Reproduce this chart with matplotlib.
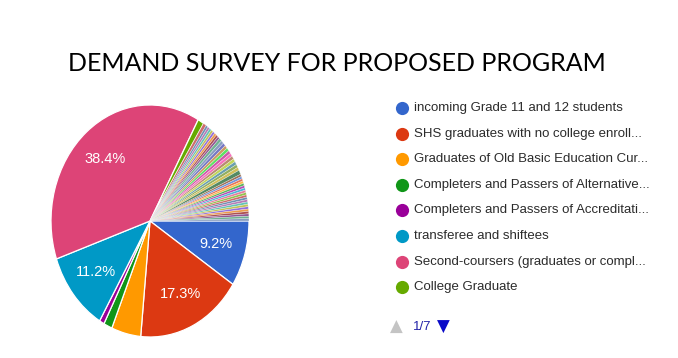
import matplotlib
matplotlib.use('Agg')
import matplotlib.pyplot as plt

# main categories (legend page 1/7)
categories = ['incoming Grade 11 and 12 students',
              'SHS graduates with no college enroll...',
              'Graduates of Old Basic Education Cur...',
              'Completers and Passers of Alternative...',
              'Completers and Passers of Accreditati...',
              'transferee and shiftees',
              'Second-coursers (graduates or compl...',
              'College Graduate']
main_values = [9.2, 17.3, 4.8, 1.4, 0.8, 11.2, 38.4, 1.0]

# the many tiny answers on the other legend pages
small_values = [0.5,
                0.35, 0.35, 0.35, 0.35, 0.35, 0.35, 0.35, 0.35,
                0.45,
                0.45, 0.45, 0.45, 0.45, 0.45, 0.45, 0.45, 0.45, 0.45, 0.45, 0.45,
                0.6,
                0.33, 0.33, 0.33, 0.33, 0.33, 0.33, 0.33, 0.33, 0.33, 0.33,
                0.33, 0.33, 0.33, 0.33, 0.33, 0.33, 0.33, 0.33, 0.33, 0.33]

palette = ['#3366cc', '#dc3912', '#ff9900', '#109618', '#990099', '#0099c6',
           '#dd4477', '#66aa00', '#b82e2e', '#316395', '#994499', '#22aa99',
           '#aaaa11', '#6633cc', '#e67300', '#8b0707', '#651067', '#329262',
           '#5574a6', '#3b3eac', '#b77322', '#16d620', '#b91383', '#f4359e',
           '#9c5935', '#a9c413', '#2a778d', '#668d1c', '#bea413', '#0c5922',
           '#743411']

values = main_values + small_values
colors = [palette[i % len(palette)] for i in range(len(values))]

fig = plt.figure(figsize=(6.78, 3.58), dpi=100)
fig.patch.set_facecolor('white')

fig.text(0.497, 0.822, 'DEMAND SURVEY FOR PROPOSED PROGRAM', ha='center', va='center',
         fontsize=18, family='Lato', color='black')

ax = fig.add_axes([51 / 678, 21 / 358, 198 / 678, 232 / 358])


def fmt(pct):
    return f'{pct:.1f}%' if pct > 5 else ''


wedges, texts, autotexts = ax.pie(values, colors=colors, startangle=0, counterclock=False,
                                  autopct=fmt, pctdistance=0.7, radius=1,
                                  wedgeprops=dict(edgecolor='white', linewidth=0.9))
# tiny slices: thin white border, washed-out colour like the antialiased original
for w in wedges[len(main_values):]:
    w.set_linewidth(0.3)
    w.set_alpha(0.7)
for t in autotexts:
    t.set_color('white')
    t.set_fontsize(10.5)
    t.set_family('Liberation Sans')
ax.set_aspect('auto')
ax.set_xlim(-1, 1)
ax.set_ylim(-1, 1)
ax.axis('off')

# legend, drawn by hand like the Google Forms one
lg = fig.add_axes([0, 0, 1, 1])
lg.set_xlim(0, 678)
lg.set_ylim(358, 0)
lg.axis('off')
for i, name in enumerate(categories):
    y = 108 + i * 25.6
    lg.plot(402, y, 'o', ms=9.5, color=colors[i], mec='none')
    lg.text(414, y, name, va='center', ha='left', fontsize=9.5,
            family='Liberation Sans', color='#2b2b2b')

lg.text(396, 327, '\u25b2', ha='center', va='center', fontsize=12, color='#c4c4c4', family='DejaVu Sans')
lg.text(413, 327, '1/7', ha='left', va='center', fontsize=9.5, color='#2323a8', family='Liberation Sans')
lg.text(443, 327, '\u25bc', ha='center', va='center', fontsize=12, color='#0a0ac8', family='DejaVu Sans')

fig.savefig('out.png', dpi=100, facecolor='white')
